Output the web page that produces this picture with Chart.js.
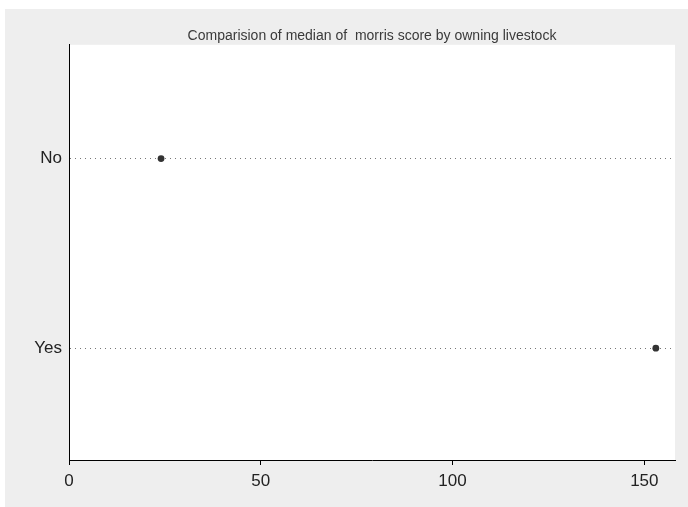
<!DOCTYPE html>
<html>
<head>
<meta charset="utf-8">
<script src="https://cdn.jsdelivr.net/npm/chart.js@4.4.0/dist/chart.umd.min.js"></script>
<style>
  html, body { margin: 0; padding: 0; background: #ffffff; }
  #wrap { width: 688px; height: 507px; }
</style>
</head>
<body>
<div id="wrap"><canvas id="c" width="688" height="507"></canvas></div>
<script>
// ---- data ----
const categories = ['No', 'Yes'];
const medianScore = [24, 153];
const xTickValues = [0, 50, 100, 150];
const titleText = 'Comparision of median of  morris score by owning livestock';

const points = categories.map((c, i) => ({ x: medianScore[i], y: i + 1 }));

const backgroundPlugin = {
  id: 'bg',
  beforeDraw(chart) {
    const { ctx, width, height, chartArea } = chart;
    ctx.save();
    ctx.fillStyle = '#ffffff';
    ctx.fillRect(0, 0, width, height);
    ctx.fillStyle = '#eeeeee';
    ctx.fillRect(5, 9, width - 5, height - 9);
    ctx.fillStyle = '#ffffff';
    ctx.fillRect(chartArea.left, chartArea.top, chartArea.right - chartArea.left, chartArea.bottom - chartArea.top);
    ctx.restore();
  }
};

new Chart(document.getElementById('c'), {
  type: 'scatter',
  data: {
    datasets: [{
      data: points,
      pointRadius: 3.4,
      pointHoverRadius: 3.4,
      pointBackgroundColor: '#333333',
      pointBorderColor: '#333333',
      pointBorderWidth: 0,
      showLine: false
    }]
  },
  options: {
    responsive: false,
    animation: false,
    devicePixelRatio: 1,
    layout: { padding: { left: 0, right: 13, top: 0, bottom: 0 } },
    plugins: {
      legend: { display: false },
      tooltip: { enabled: false },
      title: {
        display: true,
        fullSize: false,
        text: titleText,
        color: '#3a3a3a',
        font: { family: "'Liberation Sans', Arial, sans-serif", size: 14, weight: 'normal', lineHeight: 1.2 },
        padding: { top: 28, bottom: 0 }
      }
    },
    scales: {
      x: {
        type: 'linear',
        min: 0,
        max: 158,
        afterBuildTicks: s => { s.ticks = xTickValues.map(v => ({ value: v })); },
        afterFit: s => { s.height = 47; },
        grid: { drawOnChartArea: false, drawTicks: true, tickLength: 5, color: '#000000', lineWidth: 1 },
        border: { display: true, color: '#000000', width: 1 },
        ticks: {
          color: '#222222',
          padding: 6,
          maxRotation: 0,
          font: { family: "'Liberation Sans', Arial, sans-serif", size: 17 }
        }
      },
      y: {
        type: 'linear',
        reverse: true,
        min: 0.4,
        max: 2.59,
        afterBuildTicks: s => { s.ticks = categories.map((c, i) => ({ value: i + 1 })); },
        afterFit: s => { s.width = 69; },
        grid: { drawOnChartArea: true, drawTicks: false, color: '#777777', lineWidth: 1 },
        border: { display: true, color: '#000000', width: 1, dash: [1, 4] },
        ticks: {
          color: '#222222',
          padding: 7,
          font: { family: "'Liberation Sans', Arial, sans-serif", size: 17 },
          callback: v => categories[Math.round(v) - 1]
        }
      }
    }
  },
  plugins: [backgroundPlugin]
});
</script>
</body>
</html>
